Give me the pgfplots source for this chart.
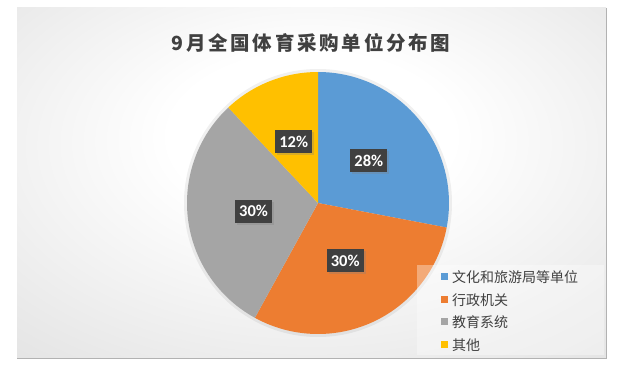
\documentclass[border=0pt]{standalone}
\usepackage{fontspec}
\usepackage{pgfplots}
\pgfplotsset{compat=1.18}
\usetikzlibrary{shadows}
\setmainfont{Carlito}
\newfontfamily\cjk{Noto Sans CJK SC}
\newfontfamily\cjktitle[LetterSpace=14]{Noto Sans CJK SC}
\definecolor{cA}{HTML}{5B9BD5}
\definecolor{cB}{HTML}{ED7D31}
\definecolor{cC}{HTML}{A5A5A5}
\definecolor{cD}{HTML}{FFC000}
\definecolor{txt}{HTML}{404040}
\definecolor{lbl}{HTML}{404040}
\definecolor{edge}{HTML}{C2C2C2}
\pgfdeclareradialshading{bgshade}{\pgfpoint{0bp}{8bp}}{color(0bp)=(white); color(12bp)=(white); color(72bp)=(edge)}
% data (percent)
\def\vA{28}\def\vB{30}\def\vC{30}\def\vD{12}
\pgfmathsetmacro\aA{90}
\pgfmathsetmacro\aB{\aA-\vA*3.6}
\pgfmathsetmacro\aC{\aB-\vB*3.6}
\pgfmathsetmacro\aD{\aC-\vC*3.6}
\pgfmathsetmacro\aE{\aD-\vD*3.6}
\pgfmathsetmacro\mA{(\aA+\aB)/2}
\pgfmathsetmacro\mB{(\aB+\aC)/2}
\pgfmathsetmacro\mC{(\aC+\aD)/2}
\pgfmathsetmacro\mD{(\aD+\aE)/2}
\begin{document}
\begin{tikzpicture}
\begin{axis}[
  x=1bp, y=1bp, xmin=0, xmax=622, ymin=0, ymax=371,
  hide axis, clip=false, at={(0,0)}, anchor=origin,
]
% background
\fill[white] (axis cs:0,0) rectangle (axis cs:622,371);
\shade[shading=bgshade] (axis cs:17,13) rectangle (axis cs:606,363);
\draw[gray!60, line width=0.8bp] (axis cs:17,13) -- (axis cs:606,13) -- (axis cs:606,363);
% title
\node[text=txt, font=\cjktitle\bfseries\fontsize{19.5bp}{21bp}\selectfont] at (axis cs:311,328) {9月全国体育采购单位分布图};
% pie
\fill[black, opacity=0.06] (axis cs:318,168) circle[radius=134bp];
\fill[cA] (axis cs:318,168) -- ++(\aA:131bp) arc[start angle=\aA, end angle=\aB, radius=131bp] -- cycle;
\fill[cB] (axis cs:318,168) -- ++(\aB:131bp) arc[start angle=\aB, end angle=\aC, radius=131bp] -- cycle;
\fill[cC] (axis cs:318,168) -- ++(\aC:131bp) arc[start angle=\aC, end angle=\aD, radius=131bp] -- cycle;
\fill[cD] (axis cs:318,168) -- ++(\aD:131bp) arc[start angle=\aD, end angle=\aE, radius=131bp] -- cycle;
% labels
\tikzset{plab/.style={fill=lbl, text=white, font=\bfseries\fontsize{16.5bp}{18bp}\selectfont, minimum width=37bp, minimum height=23bp, inner sep=0pt, drop shadow={opacity=0.3, shadow xshift=2bp, shadow yshift=-2bp}}}
\path (axis cs:318,168) ++(\mA:66bp) node[plab] {\vA\%};
\path (axis cs:318,168) ++(\mB:64bp) node[plab] {\vB\%};
\path (axis cs:318,168) ++(\mC:65bp) node[plab] {\vC\%};
\path (axis cs:318,168) ++(\mD:66bp) node[plab] {\vD\%};
% legend
\fill[white, opacity=0.35] (axis cs:417,16) rectangle (axis cs:604,106);
\fill[cA] (axis cs:441,90.5) rectangle (axis cs:448,97.5);
\fill[cB] (axis cs:441,67.5) rectangle (axis cs:448,74.5);
\fill[cC] (axis cs:441,45.5) rectangle (axis cs:448,52.5);
\fill[cD] (axis cs:441,22.5) rectangle (axis cs:448,29.5);
\tikzset{leg/.style={anchor=west, inner sep=0pt, text=txt, font=\cjk\fontsize{14bp}{16bp}\selectfont}}
\node[leg] at (axis cs:452,94) {文化和旅游局等单位};
\node[leg] at (axis cs:452,71) {行政机关};
\node[leg] at (axis cs:452,49) {教育系统};
\node[leg] at (axis cs:452,26) {其他};
\end{axis}
\pgfresetboundingbox
\path (0,0) rectangle (622bp,371bp);
\end{tikzpicture}
\end{document}
